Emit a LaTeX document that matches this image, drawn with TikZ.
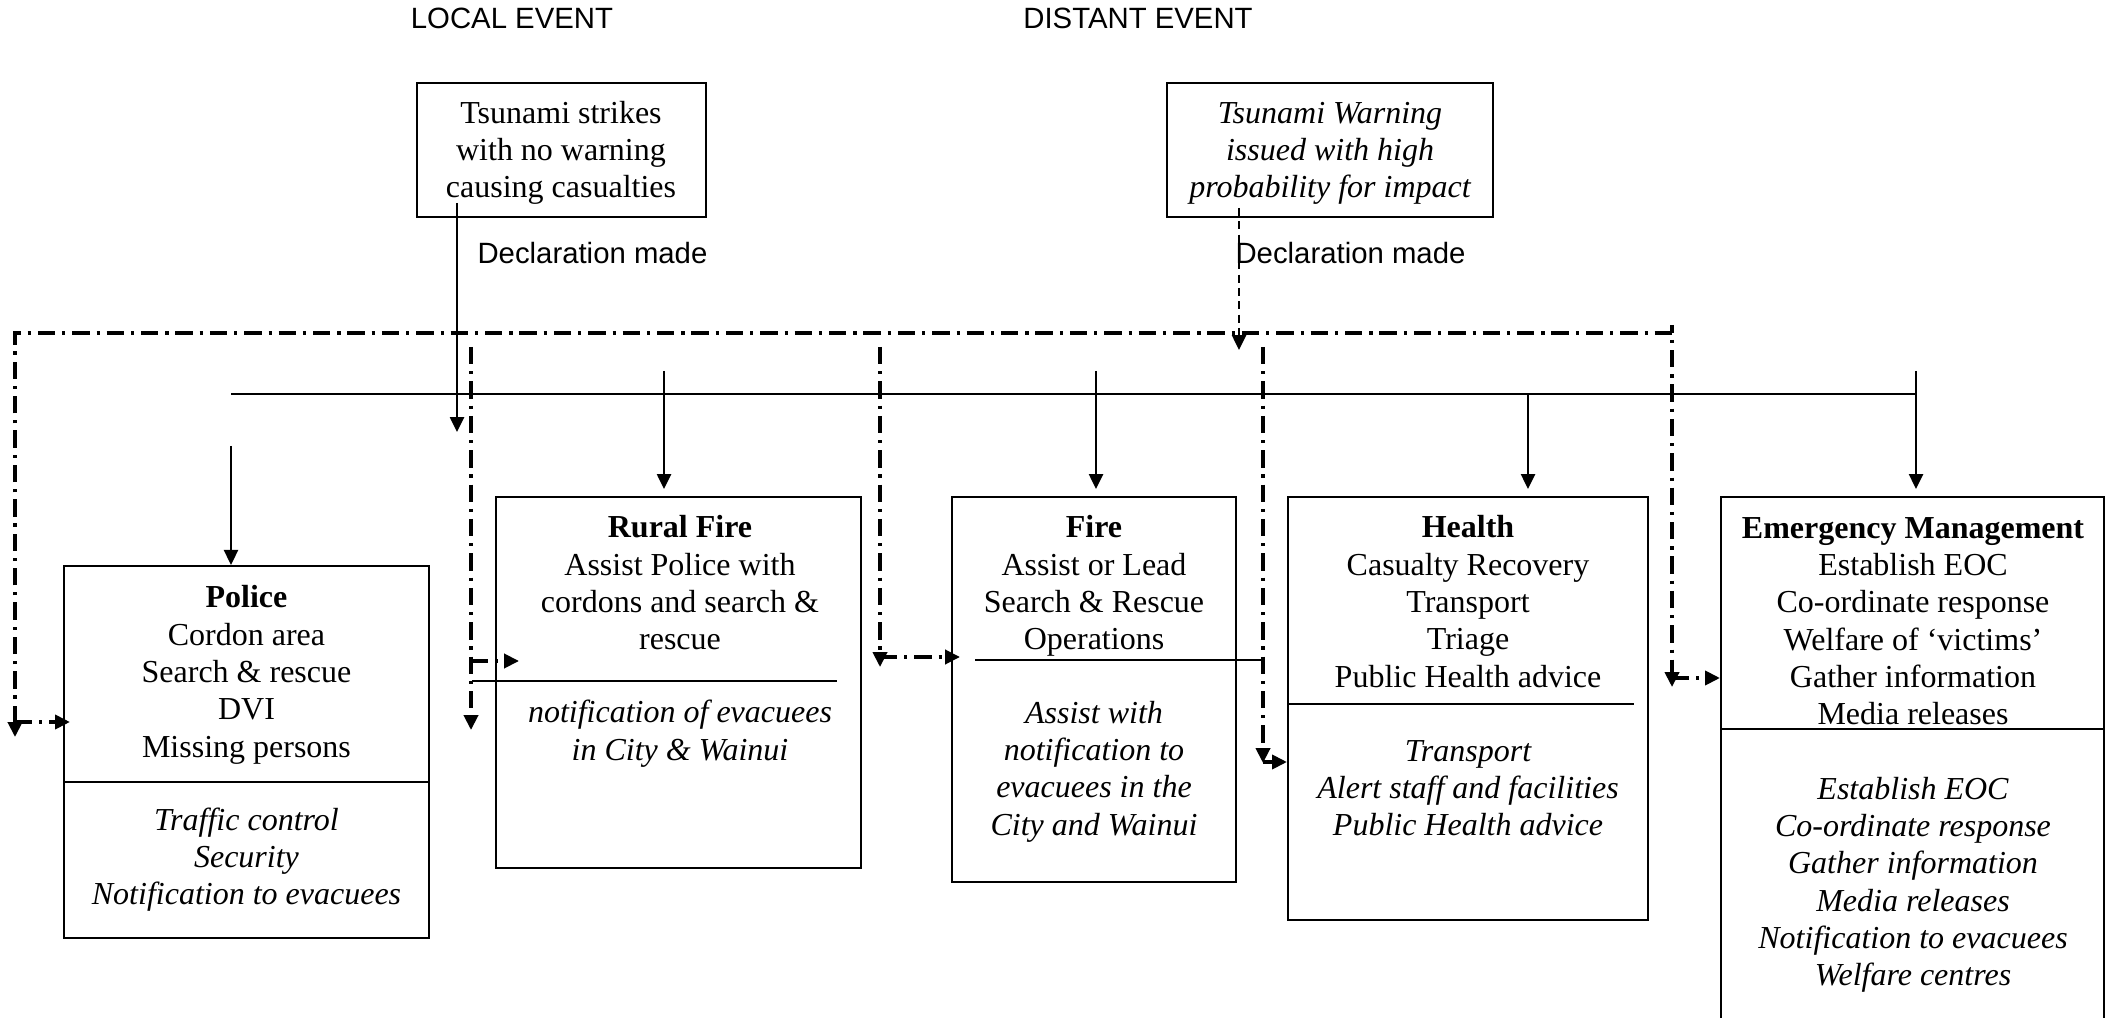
\documentclass[tikz,border=0pt]{standalone}
\usepackage{fontspec}
\setmainfont{Liberation Serif}
\setsansfont{Liberation Sans}
\usetikzlibrary{arrows.meta,fit}
\begin{document}
\begin{tikzpicture}[x=0.375pt,y=-0.375pt,
  frame/.style={draw, line width=0.8pt, inner sep=0pt},
  txt/.style={font=\fontsize{12}{14}\selectfont, align=center, inner sep=0pt, anchor=base},
  lbl/.style={font=\sffamily\fontsize{11}{13}\selectfont, inner sep=0pt, anchor=base},
  thinline/.style={line width=0.75pt},
  conn/.style={line width=0.75pt, -{Triangle[width=5.3pt,length=5.6pt]}},
  dashconn/.style={line width=0.75pt, dash pattern=on 3pt off 2pt, -{Triangle[width=5.3pt,length=5.6pt]}},
  dd/.style={line width=1.3pt, dash pattern=on 6.5pt off 2.6pt on 1.2pt off 2.6pt},
  ddarrow/.style={dd, -{Triangle[width=5.3pt,length=5.6pt]}},
  ddboth/.style={dd, {Triangle[width=5.3pt,length=5.6pt]}-{Triangle[width=5.3pt,length=5.6pt]}}
]
\useasboundingbox (0,0) rectangle (2107,1018);
\clip (0,0) rectangle (2107,1018);

% headings
\node[lbl, anchor=base] (localH) at (512,29) {LOCAL EVENT};
\node[lbl, anchor=base] (distH) at (1138,29) {DISTANT EVENT};

% event boxes (text anchors are at the baseline of the LAST line)
\node[frame, fit={(417,83) (706,217)}] (le) {};
\node[txt] (leT) at (561,197.7) {Tsunami strikes\\with no warning\\causing casualties};
\node[frame, fit={(1167,83) (1493,217)}] (de) {};
\node[txt] (deT) at (1330,197.7) {\itshape Tsunami Warning\\\itshape issued with high\\\itshape probability for impact};

\node[lbl, anchor=base west] (decl1) at (477,264) {Declaration made};
\node[lbl, anchor=base west] (decl2) at (1235,264) {Declaration made};

% agency boxes
\node[frame, fit={(64,566) (429,938)}] (police) {};
\node[txt] (policeT) at (246.5,757.3) {\textbf{Police}\\Cordon area\\Search \& rescue\\DVI\\Missing persons};
\node[txt] (policeI) at (246.5,904.7) {\itshape Traffic control\\\itshape Security\\\itshape Notification to evacuees};

\node[frame, fit={(496,497) (861,868)}] (rural) {};
\node[txt] (ruralT) at (680,650) {\textbf{Rural Fire}\\Assist Police with\\cordons and search \&\\rescue};
\node[txt] (ruralI) at (680,760.3) {\itshape notification of evacuees\\\itshape in City \& Wainui};

\node[frame, fit={(952,497) (1236,882)}] (fire) {};
\node[txt] (fireT) at (1094,650) {\textbf{Fire}\\Assist or Lead\\Search \& Rescue\\Operations};
\node[txt] (fireI) at (1094,835) {\itshape Assist with\\\itshape notification to\\\itshape evacuees in the\\\itshape City and Wainui};

\node[frame, fit={(1288,497) (1648,920)}] (health) {};
\node[txt] (healthT) at (1468,687.3) {\textbf{Health}\\Casualty Recovery\\Transport\\Triage\\Public Health advice};
\node[txt] (healthI) at (1468,835.7) {\itshape Transport\\\itshape Alert staff and facilities\\\itshape Public Health advice};

\node[frame, fit={(1721,497) (2104,1060)}] (em) {};
\node[txt] (emT) at (1913,724.7) {\textbf{Emergency Management}\\Establish EOC\\Co-ordinate response\\Welfare of `victims'\\Gather information\\Media releases};
\node[txt] (emI) at (1913,985.7) {\itshape Establish EOC\\\itshape Co-ordinate response\\\itshape Gather information\\\itshape Media releases\\\itshape Notification to evacuees\\\itshape Welfare centres};

% dividers
\draw[thinline] (64,782) -- (429,782);
\draw[thinline] (472,681) -- (837,681);
\draw[thinline] (975,660) -- (1263,660);
\draw[thinline] (1288,704) -- (1634,704);
\draw[thinline] (1721,729) -- (2104,729);

% local event line
\coordinate (leStart) at (457,203);
\coordinate (leEnd) at (457,432);
\draw[conn] (leStart) -- (leEnd);

% distant event dashed line
\coordinate (deStart) at (1239,208);
\coordinate (deEnd) at (1239,350);
\draw[dashconn] (deStart) -- (deEnd);

% bus line
\coordinate (busL) at (231,394);
\coordinate (busR) at (1916,394);
\draw[thinline] (busL) -- (busR);

\coordinate (pTop) at (231,446);
\draw[conn] (pTop) -- (police.north -| pTop);
\coordinate (rTop) at (664,371);
\draw[conn, shorten >=2.6pt] (rTop) -- (rural.north -| rTop);
\coordinate (fTop) at (1096,371);
\draw[conn, shorten >=2.6pt] (fTop) -- (fire.north -| fTop);
\coordinate (hTop) at (1528,394);
\draw[conn, shorten >=2.6pt] (hTop) -- (health.north -| hTop);
\coordinate (eTop) at (1916,371);
\draw[conn, shorten >=2.6pt] (eTop) -- (em.north -| eTop);

% dash-dot network
\coordinate (ddL) at (15,737);
\coordinate (ddLT) at (15,333);
\coordinate (ddRT) at (1672,333);
\coordinate (ddR) at (1672,687);
\draw[ddboth] (ddL) -- (ddLT) -- (ddRT) -- (ddR);
\draw[thinline, line width=1.3pt] (1672,325) -- (ddRT);

\coordinate (v1T) at (471,347); \coordinate (v1B) at (471,730);
\coordinate (v2T) at (880,347); \coordinate (v2B) at (880,667);
\coordinate (v3T) at (1263,347); \coordinate (v3B) at (1263,763);
\draw[ddarrow] (v1T) -- (v1B);
\draw[ddarrow] (v2T) -- (v2B);
\draw[ddarrow] (v3T) -- (v3B);

% branches to boxes
\coordinate (b0) at (15,722);
\draw[ddarrow] (b0) -- (b0 -| police.west) -- ++(7,0);
\coordinate (b1) at (471,661);
\draw[ddarrow] (b1) -- (519,661);
\coordinate (b2) at (880,657);
\draw[ddarrow] (b2) -- (960,657);
\coordinate (b3) at (1263,762);
\draw[ddarrow] (b3) -- (b3 -| health.west);
\coordinate (b4) at (1672,678);
\draw[ddarrow] (b4) -- (b4 -| em.west);
\end{tikzpicture}
\end{document}
